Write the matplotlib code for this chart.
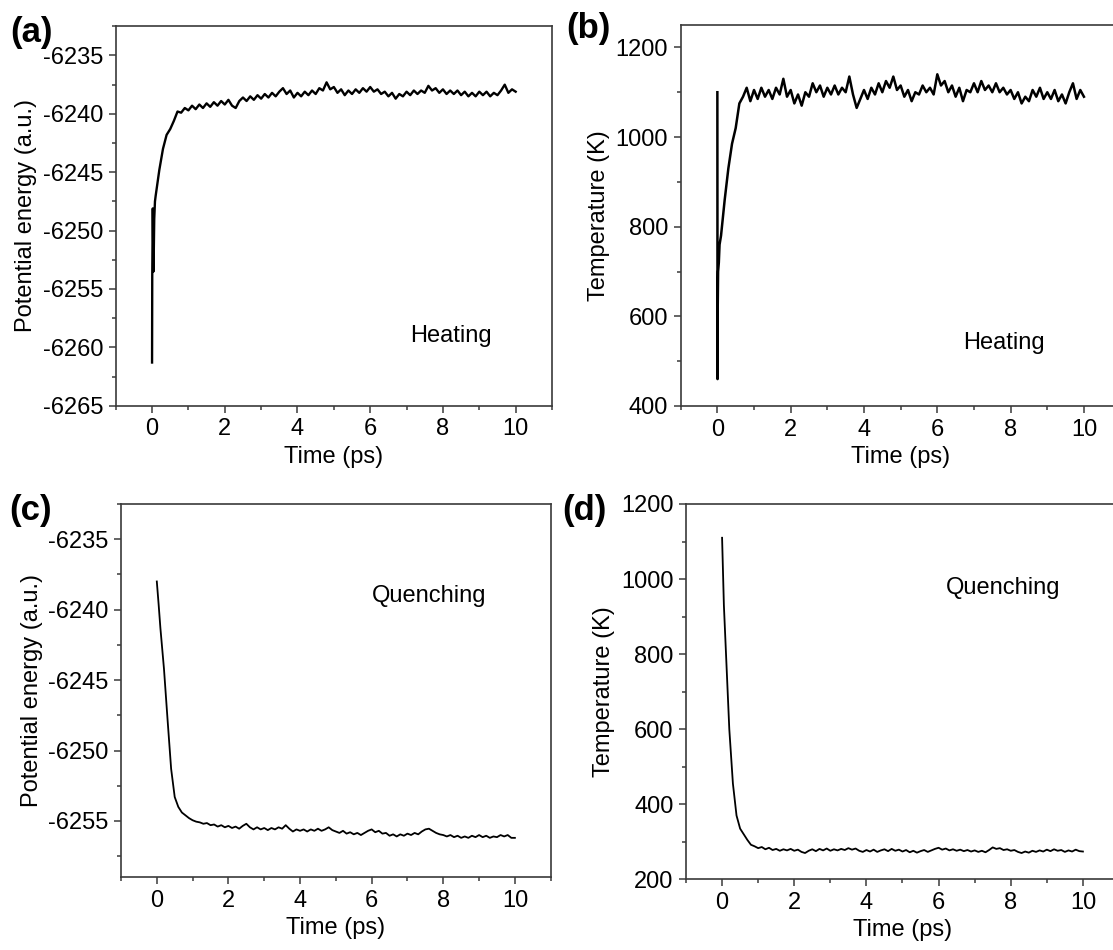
import matplotlib
matplotlib.use("Agg")
import matplotlib.pyplot as plt
import numpy as np
from matplotlib.ticker import MultipleLocator

plt.rcParams['font.family'] = ['Liberation Sans', 'DejaVu Sans']

# time grid shared by the main part of every run (ps)
t_grid = np.round(np.arange(1, 101) * 0.1, 2)

# (a) heating, potential energy
t_a0 = [0.0, 0.005, 0.02, 0.04, 0.06, 0.08]
e_a0 = [-6261.3, -6254.0, -6248.1, -6253.5, -6249.0, -6247.5]
e_a = [-6247.0, -6244.8, -6243.0, -6241.8, -6241.3, -6240.6, -6239.8, -6239.9, -6239.5, -6239.7,
       -6239.3, -6239.6, -6239.2, -6239.5, -6239.1, -6239.4, -6239.0, -6239.3, -6238.9, -6239.2,
       -6238.8, -6239.3, -6239.5, -6238.9, -6238.6, -6238.9, -6238.5, -6238.8, -6238.4, -6238.7,
       -6238.3, -6238.6, -6238.2, -6238.5, -6238.1, -6237.8, -6238.3, -6238.0, -6238.6, -6238.2,
       -6238.5, -6238.1, -6238.4, -6238.0, -6238.3, -6237.8, -6238.0, -6237.3, -6237.9, -6237.7,
       -6238.2, -6237.9, -6238.4, -6238.0, -6238.3, -6237.9, -6238.2, -6237.8, -6238.1, -6237.7,
       -6238.1, -6237.9, -6238.3, -6238.1, -6238.5, -6238.2, -6238.7, -6238.3, -6238.5, -6238.1,
       -6238.4, -6238.0, -6238.3, -6238.0, -6238.2, -6237.6, -6238.0, -6237.8, -6238.2, -6237.9,
       -6238.3, -6238.0, -6238.3, -6238.0, -6238.4, -6238.1, -6238.5, -6238.2, -6238.5, -6238.1,
       -6238.4, -6238.1, -6238.5, -6238.2, -6238.4, -6238.0, -6237.5, -6238.2, -6237.9, -6238.1]

# (b) heating, temperature
t_b0 = [0.0, 0.005, 0.01, 0.02, 0.04, 0.06, 0.08]
T_b0 = [1100, 460, 620, 700, 720, 760, 770]
T_b = [780, 860, 930, 985, 1020, 1075, 1090, 1110, 1080, 1105,
       1085, 1110, 1090, 1105, 1085, 1110, 1095, 1130, 1090, 1105,
       1075, 1095, 1070, 1100, 1090, 1120, 1100, 1115, 1090, 1110,
       1095, 1115, 1095, 1110, 1100, 1135, 1095, 1065, 1085, 1105,
       1085, 1110, 1095, 1120, 1100, 1125, 1110, 1135, 1105, 1115,
       1090, 1105, 1080, 1100, 1095, 1115, 1100, 1110, 1095, 1140,
       1115, 1125, 1100, 1115, 1090, 1110, 1080, 1105, 1100, 1120,
       1100, 1125, 1105, 1115, 1100, 1120, 1100, 1110, 1095, 1105,
       1085, 1100, 1075, 1090, 1080, 1105, 1090, 1110, 1085, 1100,
       1085, 1105, 1080, 1095, 1075, 1100, 1120, 1085, 1105, 1090]

# (c) quenching, potential energy
t_c0 = [0.0, 0.05]
e_c0 = [-6238.0, -6239.6]
e_c = [-6241.3, -6244.2, -6247.8, -6251.3, -6253.3, -6254.0, -6254.4, -6254.6, -6254.8, -6254.95,
       -6255.05, -6255.1, -6255.2, -6255.15, -6255.3, -6255.25, -6255.4, -6255.3, -6255.45, -6255.35,
       -6255.5, -6255.4, -6255.55, -6255.35, -6255.2, -6255.45, -6255.6, -6255.45, -6255.6, -6255.5,
       -6255.65, -6255.5, -6255.6, -6255.45, -6255.55, -6255.3, -6255.55, -6255.75, -6255.6, -6255.7,
       -6255.6, -6255.75, -6255.6, -6255.7, -6255.55, -6255.7, -6255.6, -6255.45, -6255.65, -6255.75,
       -6255.85, -6255.7, -6255.9, -6255.8, -6255.95, -6255.85, -6256.0, -6255.85, -6255.7, -6255.6,
       -6255.8, -6255.7, -6255.9, -6255.85, -6256.05, -6255.95, -6256.1, -6255.95, -6256.05, -6255.9,
       -6256.0, -6255.85, -6255.95, -6255.75, -6255.6, -6255.55, -6255.7, -6255.85, -6255.95, -6256.0,
       -6256.1, -6256.0, -6256.15, -6256.05, -6256.2, -6256.1, -6256.2, -6256.05, -6256.15, -6256.0,
       -6256.15, -6256.05, -6256.2, -6256.1, -6256.15, -6256.0, -6256.1, -6256.0, -6256.2, -6256.2]

# (d) quenching, temperature
t_d0 = [0.0, 0.05]
T_d0 = [1110, 930]
T_d = [820, 600, 455, 370, 335, 320, 305, 292, 288, 283,
       286, 280, 284, 278, 281, 276, 280, 277, 281, 276,
       279, 273, 270, 276, 280, 275, 281, 277, 282, 276,
       280, 277, 281, 278, 283, 279, 282, 276, 273, 278,
       274, 279, 273, 277, 280, 275, 281, 276, 279, 274,
       278, 272, 276, 271, 275, 278, 273, 277, 281, 284,
       279, 282, 277, 280, 276, 279, 275, 278, 274, 277,
       273, 276, 272, 278, 285, 281, 283, 278, 280, 276,
       278, 273, 270, 274, 271, 276, 273, 277, 274, 279,
       275, 280, 276, 278, 273, 277, 274, 279, 275, 274]

W, H = 1113, 950
fig = plt.figure(figsize=(W / 100, H / 100), dpi=100)


def px_axes(left, top, right, bottom):
    return fig.add_axes([left / W, 1 - bottom / H, (right - left) / W, (bottom - top) / H])


spine_col = '#3a3a3a'
fs = 17


def style(ax, ylim, ymaj, ymin, ylabel):
    ax.set_xlim(-1, 11)
    ax.set_ylim(*ylim)
    ax.xaxis.set_major_locator(MultipleLocator(2))
    ax.xaxis.set_minor_locator(MultipleLocator(1))
    ax.yaxis.set_major_locator(MultipleLocator(ymaj))
    ax.yaxis.set_minor_locator(MultipleLocator(ymin))
    ax.tick_params(which='both', direction='out', color=spine_col, width=1.1,
                   labelsize=fs, top=False, right=False)
    ax.tick_params(which='major', length=5, pad=4)
    ax.tick_params(which='minor', length=3)
    for s in ax.spines.values():
        s.set_color(spine_col)
        s.set_linewidth(1.2)
    ax.set_xlabel('Time (ps)', fontsize=fs, labelpad=4)
    ax.set_ylabel(ylabel, fontsize=fs, labelpad=4)
    ax.yaxis.set_major_formatter(matplotlib.ticker.FuncFormatter(lambda v, p: f'{v:.0f}'))


ax_a = px_axes(115.7, 26.3, 552, 405.7)
ax_a.plot(t_a0 + list(t_grid), e_a0 + e_a, color='black', lw=1.7)
style(ax_a, (-6265, -6232.5), 5, 2.5, 'Potential energy (a.u.)')
ax_a.text(7.1, -6259, 'Heating', fontsize=fs, va='center', ha='left')

ax_b = px_axes(680.7, 25, 1120.6, 406)
ax_b.plot(t_b0 + list(t_grid), T_b0 + T_b, color='black', lw=1.8)
style(ax_b, (400, 1250), 200, 100, 'Temperature (K)')
ax_b.text(6.7, 540, 'Heating', fontsize=fs, va='center', ha='left')

ax_c = px_axes(121, 504, 550.7, 877.3)
ax_c.plot(t_c0 + list(t_grid), e_c0 + e_c, color='black', lw=1.3)
style(ax_c, (-6259, -6232.5), 5, 2.5, 'Potential energy (a.u.)')
ax_c.text(6.0, -6239, 'Quenching', fontsize=fs, va='center', ha='left')

ax_d = px_axes(686, 504, 1119, 879.3)
ax_d.plot(t_d0 + list(t_grid), T_d0 + T_d, color='black', lw=1.3)
style(ax_d, (200, 1200), 200, 100, 'Temperature (K)')
ax_d.text(6.2, 975, 'Quenching', fontsize=fs, va='center', ha='left')

for lab, x, y in [('(a)', 10, 16), ('(b)', 566, 12), ('(c)', 9, 494), ('(d)', 562, 494)]:
    fig.text(x / W, 1 - y / H, lab, fontsize=25, fontweight='bold', ha='left', va='top')

fig.savefig('out.png', dpi=100)
